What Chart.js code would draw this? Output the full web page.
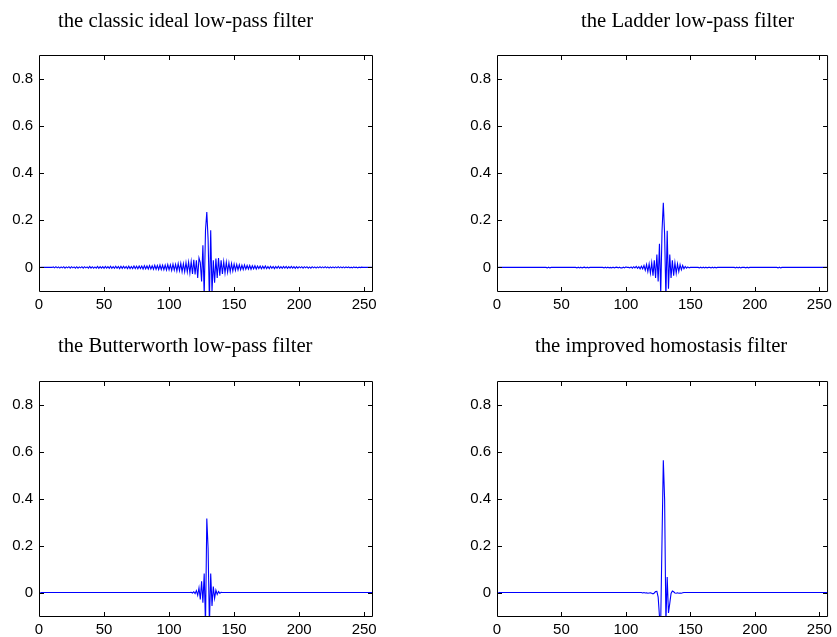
<!DOCTYPE html>
<html>
<head>
<meta charset="utf-8">
<script src="https://cdn.jsdelivr.net/npm/chart.js@4.4.1/dist/chart.umd.min.js"></script>
<style>
  body { margin: 0; background: #fff; }
  canvas { position: absolute; }
</style>
</head>
<body>
<canvas id="c1" width="418" height="318" style="left:0;top:0"></canvas>
<canvas id="c2" width="419" height="318" style="left:418px;top:0"></canvas>
<canvas id="c3" width="418" height="318" style="left:0;top:319px"></canvas>
<canvas id="c4" width="419" height="318" style="left:418px;top:319px"></canvas>
<script>
//-------------------------------------------------------------
// Data (samples 1..256)
//-------------------------------------------------------------
const titles = [
  "the classic ideal low-pass filter",
  "the Ladder low-pass filter",
  "the Butterworth low-pass filter",
  "the improved homostasis filter",
];
const xTicks = [0, 50, 100, 150, 200, 250];
const yTicks = [0, 0.2, 0.4, 0.6, 0.8];

const idealLP = [
  0, 0, 0, 0, 0, 0, 0, 0, 0, 0, 0.002, -0.002, 0.003, -0.002, 0.002, -0.003,
  0.002, -0.002, 0.003, -0.003, 0.002, -0.002, 0.003, -0.003, 0.003, -0.002, 0.002, -0.003, 0.003, -0.003, 0.002, -0.002,
  0.003, -0.003, 0.003, -0.002, 0.002, -0.003, 0.004, -0.003, 0.003, -0.003, 0.002, -0.003, 0.004, -0.004, 0.003, -0.003,
  0.003, -0.004, 0.004, -0.003, 0.003, -0.004, 0.005, -0.004, 0.003, -0.004, 0.005, -0.004, 0.004, -0.005, 0.005, -0.004,
  0.005, -0.004, 0.004, -0.005, 0.005, -0.005, 0.004, -0.005, 0.006, -0.005, 0.005, -0.006, 0.006, -0.005, 0.006, -0.007,
  0.007, -0.006, 0.006, -0.007, 0.008, -0.007, 0.007, -0.008, 0.009, -0.008, 0.008, -0.009, 0.010, -0.009, 0.009, -0.010,
  0.010, -0.011, 0.012, -0.010, 0.011, -0.013, 0.014, -0.012, 0.013, -0.015, 0.016, -0.014, 0.017, -0.018, 0.016, -0.019,
  0.020, -0.019, 0.022, -0.024, 0.025, -0.028, 0.032, -0.030, 0.030, -0.045, 0.040, 0.020, -0.060, 0.094, -0.120, 0.157,
  0.235, 0.119, -0.140, 0.157, -0.110, 0.030, -0.065, 0.038, -0.045, 0.040, -0.035, 0.030, -0.028, 0.025, -0.024, 0.022,
  -0.020, 0.019, -0.018, 0.016, -0.015, 0.014, -0.013, 0.012, -0.011, 0.011, -0.010, 0.009, -0.009, 0.010, -0.008, 0.008,
  -0.007, 0.008, -0.008, 0.007, -0.006, 0.007, -0.007, 0.006, -0.005, 0.006, -0.006, 0.005, -0.005, 0.006, -0.005, 0.004,
  -0.005, 0.005, -0.004, 0.004, -0.005, 0.004, -0.004, 0.005, -0.004, 0.003, -0.004, 0.004, -0.003, 0.004, -0.004, 0.003,
  -0.003, 0.004, -0.003, 0.003, -0.004, 0.003, -0.003, 0.003, -0.002, 0.003, -0.003, 0.003, -0.002, 0.003, -0.003, 0.002,
  -0.003, 0.003, -0.002, 0.002, -0.003, 0.002, -0.002, 0.003, -0.002, 0.002, -0.002, 0.003, -0.002, 0.002, -0.003, 0.002,
  -0.002, 0.002, -0.002, 0.002, -0.002, 0.003, -0.002, 0.002, -0.002, 0.002, -0.002, 0.002, -0.001, 0.002, -0.002, 0.001,
  -0.002, 0.002, -0.001, 0.001, -0.002, 0.001, -0.001, 0.001, 0, 0, 0, 0, 0, 0, 0, 0,
];

const ladderLP = [
  0, 0, 0, 0, 0, 0, 0, 0, 0, 0, 0, 0, 0, 0, 0, 0,
  0, 0, 0, 0, 0, 0, 0, 0, 0, 0, 0, 0, 0, 0, 0, 0,
  0, 0, 0, 0, 0, 0, -0.002, 0.001, -0.002, 0, 0, 0, 0, 0, 0, 0,
  0, 0, 0, 0, 0, 0, 0, 0, 0, 0, 0, 0, 0, -0.002, 0.001, -0.002,
  0.001, -0.002, 0, 0.001, -0.002, 0.001, -0.002, 0, 0, 0, 0, 0, 0, 0, 0, 0,
  0, 0, -0.002, 0.001, -0.002, 0.001, -0.002, 0, -0.002, 0.001, -0.002, 0, 0.001, -0.002, 0.001, -0.002,
  -0.002, 0.001, -0.002, 0.002, 0, 0, -0.002, 0.002, -0.003, 0.003, -0.002, 0.004, -0.004, 0.003, -0.006, 0.005,
  -0.006, 0.008, -0.012, 0.012, -0.018, 0.015, -0.025, 0.020, -0.035, 0.030, -0.045, 0.055, -0.060, 0.100, -0.110, 0.155,
  0.274, 0.140, -0.130, 0.155, -0.090, 0.055, -0.045, 0.030, -0.035, 0.020, -0.025, 0.015, -0.018, 0.012, -0.010, 0.008,
  -0.006, 0.004, -0.003, 0.002, -0.002, 0, 0, 0, 0, 0, 0, 0, -0.002, 0.001, -0.002, 0.001,
  -0.002, 0.001, -0.002, 0, 0, -0.002, 0.001, -0.002, 0.001, -0.002, 0, 0, 0, 0, 0, 0,
  0, 0, 0, 0, 0, 0, 0, 0, -0.002, 0.001, -0.002, 0.001, -0.002, 0, 0, 0,
  -0.002, 0.001, -0.002, 0, 0, 0, 0, 0, 0, 0, 0, 0, 0, 0, 0, 0,
  0, 0, 0, 0, 0, 0, 0, 0, 0, -0.002, 0.001, -0.002, 0, 0, 0, 0,
  0, 0, 0, 0, 0, 0, 0, 0, 0, 0, 0, 0, 0, 0, 0, 0,
  0, 0, 0, 0, 0, 0, 0, 0, 0, 0, 0, 0, 0, 0, 0, 0,
];

const butterLP = [
  0, 0, 0, 0, 0, 0, 0, 0, 0, 0, 0, 0, 0, 0, 0, 0,
  0, 0, 0, 0, 0, 0, 0, 0, 0, 0, 0, 0, 0, 0, 0, 0,
  0, 0, 0, 0, 0, 0, 0, 0, 0, 0, 0, 0, 0, 0, 0, 0,
  0, 0, 0, 0, 0, 0, 0, 0, 0, 0, 0, 0, 0, 0, 0, 0,
  0, 0, 0, 0, 0, 0, 0, 0, 0, 0, 0, 0, 0, 0, 0, 0,
  0, 0, 0, 0, 0, 0, 0, 0, 0, 0, 0, 0, 0, 0, 0, 0,
  0, 0, 0, 0, 0, 0, 0, 0, 0, 0, 0, 0, 0, 0, 0, 0,
  0, 0, 0, 0, 0.001, -0.002, 0.003, -0.005, 0.008, -0.012, 0.020, -0.030, 0.048, -0.044, 0.081, -0.140,
  0.315, 0.187, -0.140, 0.081, -0.057, 0.025, -0.025, 0.010, -0.008, 0.004, -0.003, 0.001, 0, 0, 0, 0,
  0, 0, 0, 0, 0, 0, 0, 0, 0, 0, 0, 0, 0, 0, 0, 0,
  0, 0, 0, 0, 0, 0, 0, 0, 0, 0, 0, 0, 0, 0, 0, 0,
  0, 0, 0, 0, 0, 0, 0, 0, 0, 0, 0, 0, 0, 0, 0, 0,
  0, 0, 0, 0, 0, 0, 0, 0, 0, 0, 0, 0, 0, 0, 0, 0,
  0, 0, 0, 0, 0, 0, 0, 0, 0, 0, 0, 0, 0, 0, 0, 0,
  0, 0, 0, 0, 0, 0, 0, 0, 0, 0, 0, 0, 0, 0, 0, 0,
  0, 0, 0, 0, 0, 0, 0, 0, 0, 0, 0, 0, 0, 0, 0, 0,
];

const homoFilter = [
  0, 0, 0, 0, 0, 0, 0, 0, 0, 0, 0, 0, 0, 0, 0, 0,
  0, 0, 0, 0, 0, 0, 0, 0, 0, 0, 0, 0, 0, 0, 0, 0,
  0, 0, 0, 0, 0, 0, 0, 0, 0, 0, 0, 0, 0, 0, 0, 0,
  0, 0, 0, 0, 0, 0, 0, 0, 0, 0, 0, 0, 0, 0, 0, 0,
  0, 0, 0, 0, 0, 0, 0, 0, 0, 0, 0, 0, 0, 0, 0, 0,
  0, 0, 0, 0, 0, 0, 0, 0, 0, 0, 0, 0, 0, 0, 0, 0,
  0, 0, 0, 0, 0, 0, 0, 0, 0, 0, 0, 0, 0, 0, 0, 0,
  -0.002, 0, -0.002, -0.001, -0.003, -0.002, -0.001, -0.003, -0.006, -0.002, 0.004, 0.005, -0.020, -0.100, -0.120, 0.227,
  0.563, 0.397, -0.130, 0.066, -0.087, -0.046, -0.004, 0.006, 0.003, -0.002, -0.003, -0.001, -0.003, -0.002, -0.003, -0.001,
  0, 0, 0, 0, 0, 0, 0, 0, 0, 0, 0, 0, 0, 0, 0, 0,
  0, 0, 0, 0, 0, 0, 0, 0, 0, 0, 0, 0, 0, 0, 0, 0,
  0, 0, 0, 0, 0, 0, 0, 0, 0, 0, 0, 0, 0, 0, 0, 0,
  0, 0, 0, 0, 0, 0, 0, 0, 0, 0, 0, 0, 0, 0, 0, 0,
  0, 0, 0, 0, 0, 0, 0, 0, 0, 0, 0, 0, 0, 0, 0, 0,
  0, 0, 0, 0, 0, 0, 0, 0, 0, 0, 0, 0, 0, 0, 0, 0,
  0, 0, 0, 0, 0, 0, 0, 0, 0, 0, 0, 0, 0, 0, 0, 0,
];

//-------------------------------------------------------------
// Box, inward ticks and title (MATLAB look)
//-------------------------------------------------------------
const matlabAxes = {
  id: "matlabAxes",
  afterDraw(chart, args, opts) {
    const { ctx, chartArea: a, scales } = chart;
    const tl = 4;
    ctx.save();
    ctx.strokeStyle = "#000";
    ctx.lineWidth = 1;
    ctx.beginPath();
    ctx.rect(a.left + 0.5, a.top + 0.5, a.right - a.left, a.bottom - a.top);
    for (const t of scales.x.ticks) {
      const px = Math.round(scales.x.getPixelForValue(t.value)) + 0.5;
      ctx.moveTo(px, a.bottom);
      ctx.lineTo(px, a.bottom - tl);
      ctx.moveTo(px, a.top + 1);
      ctx.lineTo(px, a.top + 1 + tl);
    }
    for (const t of scales.y.ticks) {
      const py = Math.round(scales.y.getPixelForValue(t.value)) + 0.5;
      ctx.moveTo(a.left + 1, py);
      ctx.lineTo(a.left + 1 + tl, py);
      ctx.moveTo(a.right, py);
      ctx.lineTo(a.right - tl, py);
    }
    ctx.stroke();
    ctx.font = '20.7px "Liberation Serif", "Times New Roman", serif';
    ctx.fillStyle = "#000";
    ctx.textAlign = "left";
    ctx.textBaseline = "alphabetic";
    ctx.fillText(opts.text, opts.x, opts.y);
    ctx.restore();
  },
};

//-------------------------------------------------------------
// One subplot per canvas
//-------------------------------------------------------------
function makePlot(id, values, title, lay) {
  const tickFont = { family: '"Liberation Sans", Arial, sans-serif', size: 15 };
  return new Chart(document.getElementById(id), {
    type: "line",
    data: {
      datasets: [
        {
          data: values.map((v, i) => ({ x: i + 1, y: v })),
          borderColor: "#0000ff",
          borderWidth: 1.1,
          pointRadius: 0,
          tension: 0,
          fill: false,
        },
      ],
    },
    options: {
      responsive: false,
      animation: false,
      devicePixelRatio: 1,
      layout: { padding: { top: lay.top, right: lay.right, left: 0, bottom: 0 } },
      plugins: {
        legend: { display: false },
        tooltip: { enabled: false },
        matlabAxes: { text: title, x: lay.tx, y: lay.ty },
      },
      scales: {
        x: {
          type: "linear",
          min: 0,
          max: 256,
          afterBuildTicks: (s) => { s.ticks = xTicks.map((v) => ({ value: v })); },
          afterFit: (s) => { s.height = lay.xh; },
          grid: { display: false, drawTicks: false },
          border: { display: false },
          ticks: { color: "#000", font: tickFont, padding: 5, maxRotation: 0, autoSkip: false },
        },
        y: {
          type: "linear",
          min: -0.1,
          max: 0.9,
          afterBuildTicks: (s) => { s.ticks = yTicks.map((v) => ({ value: v })); },
          afterFit: (s) => { s.width = lay.yw; },
          grid: { display: false, drawTicks: false },
          border: { display: false },
          ticks: { color: "#000", font: tickFont, padding: 6, callback: (v) => String(v) },
        },
      },
    },
    plugins: [matlabAxes],
  });
}

makePlot("c1", idealLP, titles[0], { top: 55, right: 46, yw: 39, xh: 27, tx: 58, ty: 27 });
makePlot("c2", ladderLP, titles[1], { top: 55, right: 7, yw: 79, xh: 27, tx: 581 - 418, ty: 27 });
makePlot("c3", butterLP, titles[2], { top: 62, right: 46, yw: 39, xh: 21, tx: 58, ty: 33 });
makePlot("c4", homoFilter, titles[3], { top: 62, right: 7, yw: 79, xh: 21, tx: 535 - 418, ty: 33 });
</script>
</body>
</html>
